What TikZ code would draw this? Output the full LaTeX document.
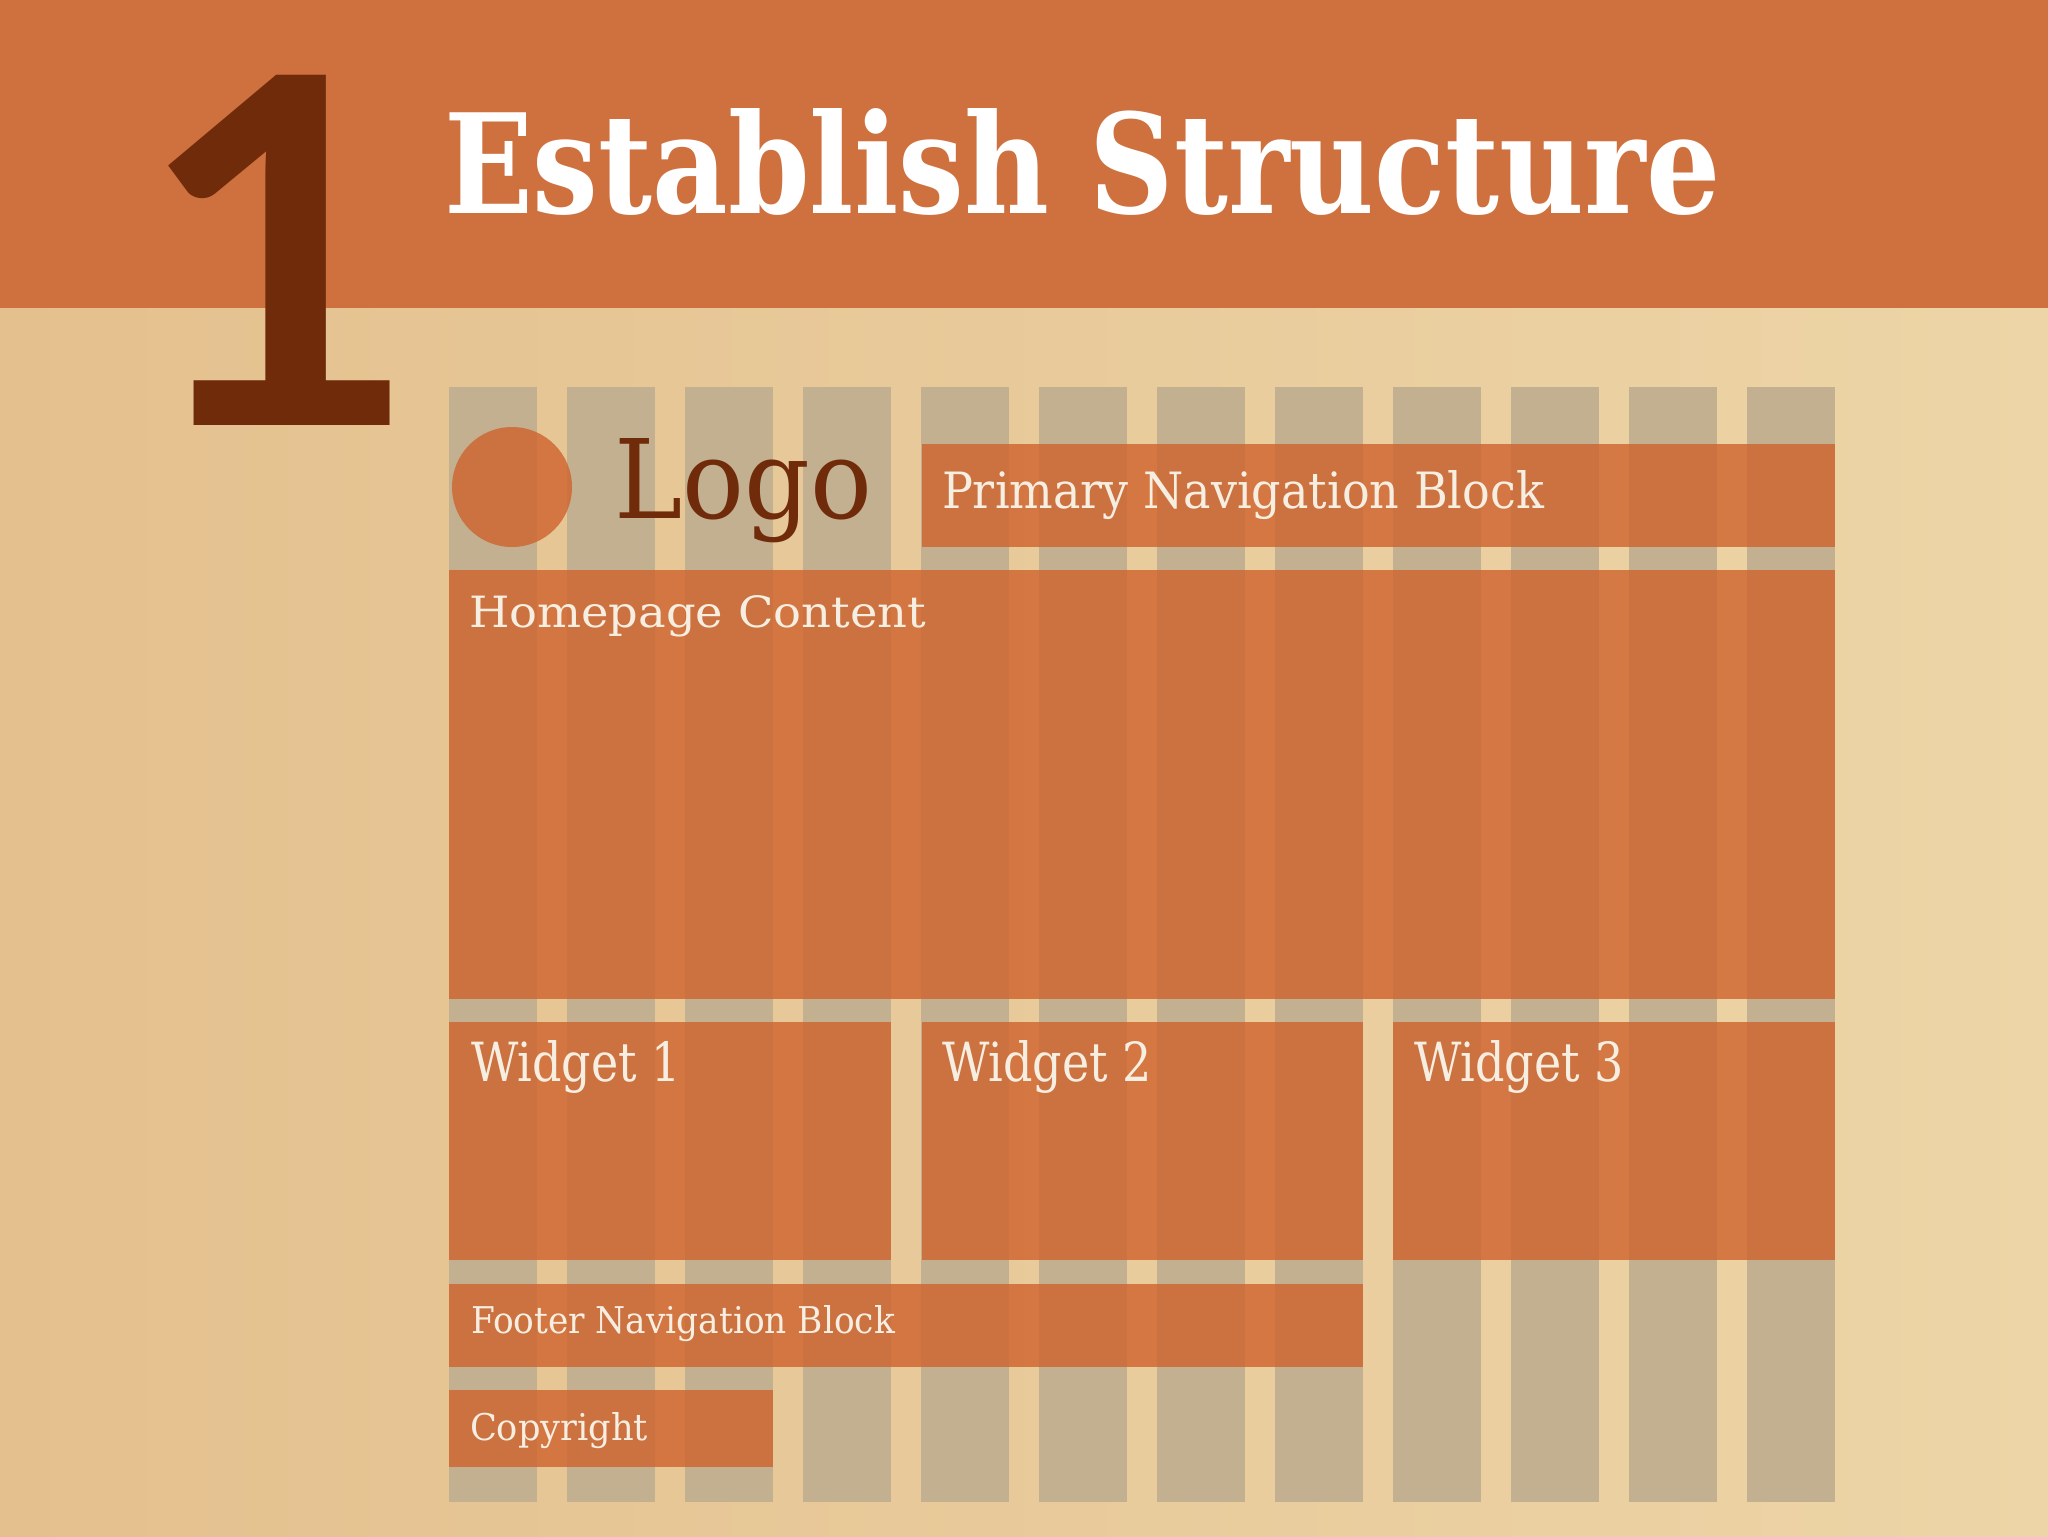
\documentclass[tikz,border=0pt]{standalone}
\usepackage{fontspec}
\usepackage{graphicx}
\newfontfamily\slab{DejaVu Serif}
\newfontfamily\numfont{Lato}
\definecolor{parch}{RGB}{241,220,178}
\definecolor{parchdark}{RGB}{228,192,142}
\definecolor{parchright}{RGB}{237,213,167}
\definecolor{band}{RGB}{207,113,62}
\definecolor{brownd}{RGB}{112,43,11}
\definecolor{colgray}{RGB}{194,176,144}
\definecolor{blockor}{RGB}{207,98,45}
\definecolor{offwhite}{RGB}{246,238,224}
\newlength\pxu
\setlength\pxu{0.1mm}
\newcommand{\fitbox}[3]{\resizebox{#1\pxu}{#2\pxu}{#3}}
\tikzset{
  colbar/.style={fill=colgray},
  blk/.style={fill=blockor, fill opacity=0.8},
  lbl/.style={anchor=base west, inner sep=0pt, outer sep=0pt, text=offwhite},
}
\begin{document}
\begin{tikzpicture}[x=0.1mm,y=-0.1mm]
\useasboundingbox (0,0) rectangle (2048,1536);
% parchment
\shade[left color=parchdark, middle color=parch, right color=parchright] (0,0) rectangle (2048,1536);
% header band
\fill[band] (0,0) rectangle (2048,308);
% grid columns
\foreach \i in {0,...,11}
  \fill[colbar] ({449+118*\i},387) rectangle ++(88,1115);
% blocks
\fill[blk] (512,487) circle[radius=60];
\fill[blk] (922,444) rectangle (1835,547);
\fill[blk] (449,570) rectangle (1835,999);
\fill[blk] (449,1022) rectangle (891,1260);
\fill[blk] (922,1022) rectangle (1363,1260);
\fill[blk] (1393,1022) rectangle (1835,1260);
\fill[blk] (449,1284) rectangle (1363,1367);
\fill[blk] (449,1390) rectangle (773,1467);
% texts
\node[anchor=base, inner sep=0pt, text=brownd] (one) at (279,425)
  {\fitbox{284}{350}{\numfont\bfseries 1}};
\node[lbl, text=white] (title) at (444,213)
  {\fitbox{1276}{105}{\slab\bfseries Establish Structure}};
\node[lbl, text=brownd] (logo) at (614,518)
  {\fitbox{258}{80}{\slab Logo}};
\node[lbl] (pnav) at (942,508)
  {\fitbox{602}{38}{\slab Primary Navigation Block}};
\node[lbl] (home) at (469,627)
  {\fitbox{457}{32}{\slab Homepage Content}};
\node[lbl] (w1) at (471,1081) {\fitbox{210}{41}{\slab Widget 1}};
\node[lbl] (w2) at (942,1081) {\fitbox{210}{41}{\slab Widget 2}};
\node[lbl] (w3) at (1414,1081) {\fitbox{210}{41}{\slab Widget 3}};
\node[lbl] (fnav) at (471,1333)
  {\fitbox{424}{28}{\slab Footer Navigation Block}};
\node[lbl] (copy) at (470,1440)
  {\fitbox{178}{28}{\slab Copyright}};
\end{tikzpicture}
\end{document}
